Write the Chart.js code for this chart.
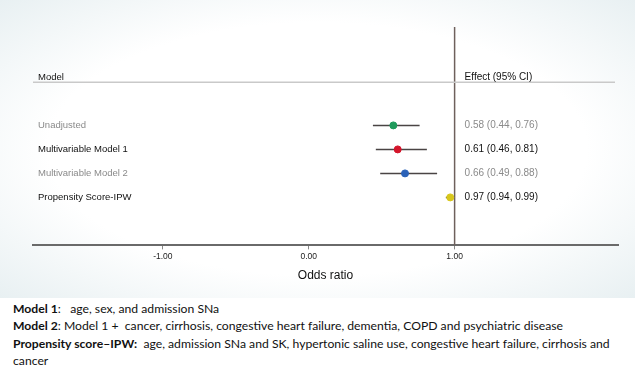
<!DOCTYPE html>
<html>
<head>
<meta charset="utf-8">
<script src="https://cdn.jsdelivr.net/npm/chart.js@4"></script>
<style>
  html, body { margin: 0; padding: 0; background: #fff; overflow: hidden; }
  #panel {
    position: absolute; left: 0; top: 0; width: 635px; height: 298px;
    background: radial-gradient(ellipse at center, #ffffff 60%, #e8f0f2 100%);
  }
  #notes {
    position: absolute; left: 13px; top: 300px; width: 622px;
    font-family: Lato, sans-serif; font-size: 12.2px; line-height: 17.3px; color: #111;
    white-space: nowrap;
  }
  #notes b { font-weight: bold; }
</style>
</head>
<body>
<div id="panel"><canvas id="forest" width="635" height="298"></canvas></div>
<div id="notes">
  <div><b>Model 1</b>:&nbsp;&nbsp; age, sex, and admission SNa</div>
  <div><b>Model 2</b>: Model 1 +&nbsp; cancer, cirrhosis, congestive heart failure, dementia, COPD and psychiatric disease</div>
  <div><b>Propensity score–IPW:</b>&nbsp; age, admission SNa and SK, hypertonic saline use, congestive heart failure, cirrhosis and</div>
  <div>cancer</div>
</div>
<script>
// Forest plot data
const models = ['Unadjusted', 'Multivariable Model 1', 'Multivariable Model 2', 'Propensity Score-IPW'];
const oddsRatio = [0.58, 0.61, 0.66, 0.97];
const ciLow = [0.44, 0.46, 0.49, 0.94];
const ciHigh = [0.76, 0.81, 0.88, 0.99];
const xTicks = [-1, 0, 1];
const nullValue = 1;

const pointColors = ['#1f9a5b', '#d4152b', '#2a62b8', '#d8c71c'];
const textColors = ['#8a8a8a', '#111111', '#8a8a8a', '#111111'];
const labelFont = '9.5px "Liberation Sans Narrow", "Liberation Sans", Arial, sans-serif';
const effectFont = '10px "Liberation Sans", Arial, sans-serif';

const rowY = models.map((m, i) => i + 1);
const effectText = models.map((m, i) =>
  `${oddsRatio[i].toFixed(2)} (${ciLow[i].toFixed(2)}, ${ciHigh[i].toFixed(2)})`);

// CI whiskers, one line per row
const ciSets = models.map((m, i) => ({
  type: 'line',
  data: [{ x: ciLow[i], y: rowY[i] }, { x: ciHigh[i], y: rowY[i] }],
  borderColor: '#4a4444',
  borderWidth: 1.5,
  pointRadius: 0,
  order: 2
}));

// Text columns and header rule
const textColumns = {
  id: 'textColumns',
  afterDatasetsDraw(chart) {
    const { ctx, chartArea, scales } = chart;
    const xs = scales.x, ys = scales.y;
    ctx.save();
    // header rule
    const ruleY = ys.getPixelForValue(-0.8);
    ctx.strokeStyle = '#c9c9c9';
    ctx.lineWidth = 1.5;
    ctx.beginPath();
    ctx.moveTo(chartArea.left, ruleY);
    ctx.lineTo(chartArea.right - 3, ruleY);
    ctx.stroke();

    ctx.textBaseline = 'middle';
    ctx.textAlign = 'left';
    const leftX = chartArea.left + 5;
    const effX = xs.getPixelForValue(nullValue) + 10;
    const headY = ys.getPixelForValue(-1);
    ctx.fillStyle = '#111';
    ctx.font = labelFont;
    ctx.fillText('Model', leftX, headY);
    ctx.font = effectFont;
    ctx.fillText('Effect (95% CI)', effX, headY);
    models.forEach((m, i) => {
      const y = ys.getPixelForValue(rowY[i]);
      ctx.fillStyle = textColors[i];
      ctx.font = labelFont;
      ctx.fillText(m, leftX, y);
      ctx.font = effectFont;
      ctx.fillText(effectText[i], effX, y);
    });
    ctx.restore();
  }
};

new Chart(document.getElementById('forest'), {
  type: 'scatter',
  data: {
    datasets: [
      {
        type: 'line',
        data: [{ x: nullValue, y: -3.1 }, { x: nullValue, y: 6.0 }],
        borderColor: '#6e605c',
        borderWidth: 1.5,
        pointRadius: 0,
        order: 3
      },
      ...ciSets,
      {
        data: models.map((m, i) => ({ x: oddsRatio[i], y: rowY[i] })),
        pointBackgroundColor: pointColors,
        pointBorderColor: pointColors,
        pointRadius: 3.5,
        order: 1
      }
    ]
  },
  options: {
    responsive: false,
    animation: false,
    layout: { padding: { left: 33, right: 17, top: 27, bottom: 15 } },
    plugins: { legend: { display: false }, tooltip: { enabled: false } },
    scales: {
      x: {
        type: 'linear',
        min: -1.89,
        max: 2.12,
        afterBuildTicks: axis => { axis.ticks = xTicks.map(v => ({ value: v })); },
        border: { display: true, color: '#6a6a6a', width: 2 },
        grid: { drawOnChartArea: false, drawTicks: true, tickLength: 4, color: '#888' },
        ticks: {
          callback: v => Number(v).toFixed(2),
          font: { family: '"Liberation Sans", Arial, sans-serif', size: 8.5 },
          color: '#222',
          padding: 2
        },
        title: {
          display: true,
          text: 'Odds ratio',
          font: { family: '"Liberation Sans", Arial, sans-serif', size: 12 },
          color: '#111',
          padding: { top: 5, bottom: 0 }
        }
      },
      y: {
        type: 'linear',
        display: false,
        reverse: true,
        min: -3.1,
        max: 6.0
      }
    }
  },
  plugins: [textColumns]
});
</script>
</body>
</html>
